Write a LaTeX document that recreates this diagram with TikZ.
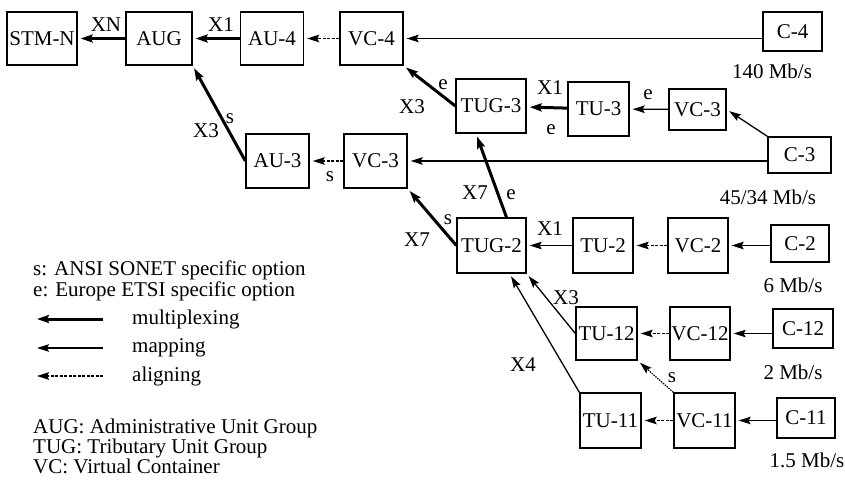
\documentclass[tikz,border=0pt]{standalone}
\usepackage{fontspec}
\setmainfont{Liberation Serif}
\usetikzlibrary{arrows.meta}

\tikzset{
  box/.style={draw, line width=1.3pt, inner sep=0pt, minimum width=62pt, minimum height=54pt},
  cbox/.style={box, minimum width=60pt, minimum height=38pt},
  lbl/.style={inner sep=0pt},
  mux/.style={line width=3pt, -{Stealth[length=12pt,width=8pt,inset=2pt]}, shorten >=3pt},
  map/.style={line width=1.3pt, -{Stealth[length=12pt,width=7.5pt,inset=2pt]}, shorten >=3pt},
  align/.style={line width=1.6pt, dash pattern=on 3pt off 1.5pt, -{Stealth[length=12pt,width=7.5pt,inset=2pt]}, shorten >=3pt}
}

\begin{document}
\begin{tikzpicture}[x=1pt, y=-1pt, font=\fontsize{21}{24}\selectfont]
\useasboundingbox (0,0) rectangle (845,479);

% Top row
\node[box, minimum width=70pt, minimum height=53pt] (stm) at (42,38.5) {STM-N};
\node[box, minimum width=66pt, minimum height=53pt] (aug) at (159,38.5) {AUG};
\node[box, minimum width=63pt, minimum height=53pt] (au4) at (272,38.5) {AU-4};
\node[box, minimum width=63pt, minimum height=53pt] (vc4) at (371.5,38.5) {VC-4};
\node[cbox, minimum width=59pt, minimum height=39pt] (c4) at (792.5,31.5) {C-4};

% 3 level
\node[box, minimum width=70pt] (tug3) at (491,106) {TUG-3};
\node[box, minimum width=61pt] (tu3) at (598.5,109) {TU-3};
\node[box, minimum width=57pt, minimum height=41pt] (vc3a) at (697.5,109.5) {VC-3};
\node[cbox, minimum width=63pt, minimum height=36pt] (c3) at (799.5,155) {C-3};
\node[box, minimum width=63pt] (au3) at (277.5,161) {AU-3};
\node[box, minimum width=63pt] (vc3b) at (375.5,161) {VC-3};

% 2 level
\node[box, minimum width=69pt, minimum height=55pt] (tug2) at (491.5,245.5) {TUG-2};
\node[box, minimum width=60pt, minimum height=55pt] (tu2) at (603,245.5) {TU-2};
\node[box, minimum width=60pt, minimum height=55pt] (vc2) at (698,245.5) {VC-2};
\node[cbox, minimum width=58pt, minimum height=37pt] (c2) at (800,243.5) {C-2};

% 12 and 11
\node[box, minimum width=61pt, minimum height=53pt] (tu12) at (606.5,333.5) {TU-12};
\node[box, minimum width=60pt, minimum height=53pt] (vc12) at (700,333.5) {VC-12};
\node[cbox, minimum width=60pt, minimum height=39pt] (c12) at (803,328.5) {C-12};
\node[box, minimum width=61pt, minimum height=55pt] (tu11) at (610.5,420.5) {TU-11};
\node[box, minimum width=61pt, minimum height=55pt] (vc11) at (704.5,420.5) {VC-11};
\node[cbox, minimum width=58pt, minimum height=40pt] (c11) at (806,418) {C-11};

% Rates
\node[lbl] (r4) at (772,71) {140 Mb/s};
\node[lbl] (r3) at (768,197) {45/34 Mb/s};
\node[lbl] (r2) at (793,285) {6 Mb/s};
\node[lbl] (r12) at (793,372) {2 Mb/s};
\node[lbl] (r11) at (807,460) {1.5 Mb/s};

% Arrows
\draw[mux] (aug) -- (stm);
\draw[mux] (au4) -- (aug);
\draw[align] (vc4) -- (au4);
\draw[map] (c4.west |- vc4.east) -- (vc4.east);
\draw[mux] (tug3.west) -- (vc4.south east);
\draw[mux] (au3.west) -- (aug.south east);
\draw[align] (vc3b) -- (au3);
\draw[map] (c3.west |- vc3b.east) -- (vc3b.east);
\draw[mux] (tu3) -- (tug3);
\draw[map] (vc3a) -- (tu3);
\draw[map] (c3.north west) -- (vc3a.east);
\draw[mux] ([xshift=15pt]tug2.north) -- ([xshift=-15pt]tug3.south);
\draw[mux] (tug2.west) -- (vc3b.south east);
\draw[map] (tu2) -- (tug2);
\draw[align] (vc2) -- (tu2);
\draw[map] (c2.west |- vc2.east) -- (vc2.east);
\draw[map] (tu12.west) -- (tug2.south east);
\draw[align] (vc12) -- (tu12);
\draw[map] (c12.west |- vc12.east) -- (vc12.east);
\draw[map] (tu11.north west) -- ([xshift=18pt]tug2.south);
\draw[align] (vc11) -- (tu11);
\draw[map] (c11.west |- vc11.east) -- (vc11.east);
\draw[align, line width=1.2pt, dash pattern=on 1.5pt off 1pt] (vc11.north west) -- (tu12.south east);

% Arrow labels
\node[lbl] (xn) at (106,25) {XN};
\node[lbl] (x1a) at (221,25) {X1};
\node[lbl] (x3a) at (412,107) {X3};
\node[lbl] (e1) at (443,85) {e};
\node[lbl] (x3b) at (206,131) {X3};
\node[lbl] (s1) at (230,119) {s};
\node[lbl] (s2) at (330,177) {s};
\node[lbl] (x1b) at (550,88) {X1};
\node[lbl] (e2) at (551,130) {e};
\node[lbl] (e3) at (648,95) {e};
\node[lbl] (x7a) at (475,193) {X7};
\node[lbl] (e4) at (511,195) {e};
\node[lbl] (s3) at (448,220) {s};
\node[lbl] (x7b) at (417,240) {X7};
\node[lbl] (x1c) at (550,229) {X1};
\node[lbl] (x3c) at (566,298) {X3};
\node[lbl] (x4) at (523,365) {X4};
\node[lbl] (s4) at (672,378) {s};

% Legend
\node[lbl, anchor=base west] (ls) at (33,275) {s: ANSI SONET specific option};
\node[lbl, anchor=base west] (le) at (33,296) {e: Europe ETSI specific option};
\coordinate (m1) at (103,319); \coordinate (m0) at (37,319);
\coordinate (p1) at (103,348); \coordinate (p0) at (37,348);
\coordinate (a1) at (103,376); \coordinate (a0) at (37,376);
\draw[mux, shorten >=0pt] (m1) -- (m0);
\draw[map, shorten >=0pt] (p1) -- (p0);
\draw[align, shorten >=0pt] (a1) -- (a0);
\node[lbl, anchor=west] (lm) at (132,319) {multiplexing};
\node[lbl, anchor=west] (lp) at (132,348) {mapping};
\node[lbl, anchor=west] (la) at (132,376) {aligning};
\node[lbl, anchor=base west] (laug) at (33,433) {AUG: Administrative Unit Group};
\node[lbl, anchor=base west] (ltug) at (33,453) {TUG: Tributary Unit Group};
\node[lbl, anchor=base west] (lvc) at (33,473) {VC: Virtual Container};

\end{tikzpicture}
\end{document}
